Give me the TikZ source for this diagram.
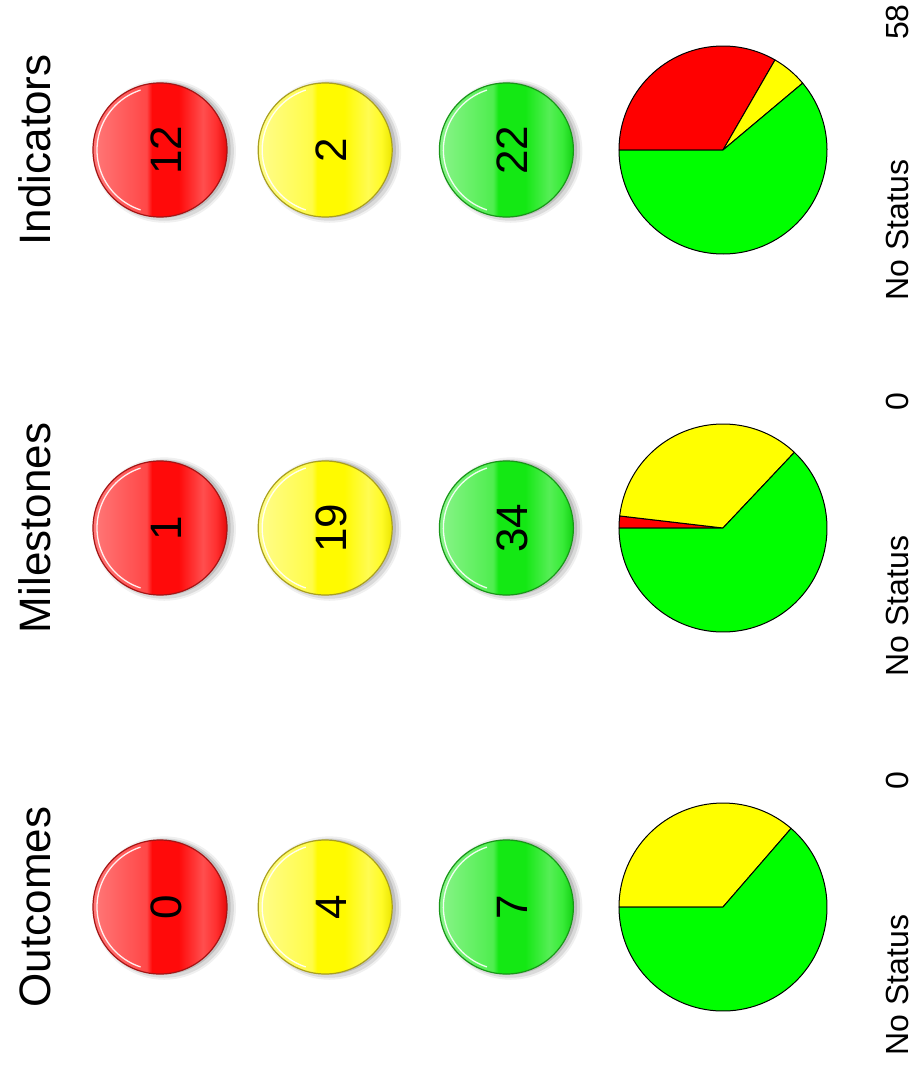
\documentclass[tikz,border=0pt]{standalone}
\usepackage{fontspec}
\setmainfont{Liberation Sans}
\usepackage{xcolor}
\usepackage{tikz}
\usetikzlibrary{positioning,shadows}

\definecolor{pred}{RGB}{255,0,0}
\definecolor{pyellow}{RGB}{255,255,0}
\definecolor{pgreen}{RGB}{0,255,0}
\definecolor{bred}{RGB}{255,10,10}
\definecolor{byellow}{RGB}{255,250,0}
\definecolor{bgreen}{RGB}{20,232,20}
\definecolor{redrim}{RGB}{165,20,20}
\definecolor{yellowrim}{RGB}{170,160,30}
\definecolor{greenrim}{RGB}{25,150,25}

\pgfdeclarehorizontalshading{redbtn}{100bp}{color(0bp)=(bred!55!white); color(25bp)=(bred!55!white); color(45bp)=(bred!75!white); color(47bp)=(bred); color(57bp)=(bred); color(66bp)=(bred!72!white); color(71bp)=(bred!85!white); color(75bp)=(bred!90!black); color(100bp)=(bred!90!black)}
\pgfdeclarehorizontalshading{yellowbtn}{100bp}{color(0bp)=(byellow!45!white); color(25bp)=(byellow!45!white); color(45bp)=(byellow!72!white); color(47bp)=(byellow); color(57bp)=(byellow); color(66bp)=(byellow!68!white); color(71bp)=(byellow!85!white); color(75bp)=(byellow!92!black); color(100bp)=(byellow!92!black)}
\pgfdeclarehorizontalshading{greenbtn}{100bp}{color(0bp)=(bgreen!50!white); color(25bp)=(bgreen!50!white); color(45bp)=(bgreen!75!white); color(47bp)=(bgreen); color(57bp)=(bgreen); color(66bp)=(bgreen!72!white); color(71bp)=(bgreen!85!white); color(75bp)=(bgreen!90!black); color(100bp)=(bgreen!90!black)}

\tikzset{title/.style={rotate=90, anchor=base, inner sep=0pt, font=\fontsize{44}{50}\selectfont}}
\tikzset{num/.style={rotate=90, anchor=base, inner sep=0pt, font=\fontsize{44}{50}\selectfont}}
\tikzset{stat/.style={rotate=90, anchor=base, inner sep=0pt, font=\fontsize{32}{38}\selectfont}}
\tikzset{btn/.style={circle, minimum size=134pt, inner sep=0pt, shade, shading=#1btn, draw=#1rim, line width=1.2pt,
    drop shadow={shadow xshift=4pt, shadow yshift=-1pt, shadow scale=1.07, opacity=.06, fill=black},
    drop shadow={shadow xshift=4pt, shadow yshift=-1pt, shadow scale=1.04, opacity=.09, fill=black},
    drop shadow={shadow xshift=3pt, shadow yshift=0pt, shadow scale=1.01, opacity=.12, fill=black},
    path picture={\draw[white, line width=1.3pt, opacity=.9] ([shift={(108:63)}]path picture bounding box.center) arc[start angle=108, end angle=252, radius=63];}}}
\tikzset{slice/.style={draw=black, line width=1pt, line join=round}}

\begin{document}
\begin{tikzpicture}[x=1pt,y=1pt]
    \useasboundingbox[fill=white] (0,0) rectangle (921,-1068);

    % Indicators
    \node[title] (ind-t) at (50,-150) {Indicators};
    \node[btn=red] (ind-r) at (160,-150) {};
    \node[btn=yellow,right=30pt of ind-r] (ind-y) {};
    \node[btn=green,right=46pt of ind-y] (ind-g) {};
    \node[num] (ind-rn) at ([xshift=21pt]ind-r.center) {12};
    \node[num] (ind-yn) at ([xshift=21pt]ind-y.center) {2};
    \node[num] (ind-gn) at ([xshift=21pt]ind-g.center) {22};

    \coordinate (ind-pie) at (723,-150);
    \draw[slice,fill=pred] (ind-pie) -- +(180:104) arc[start angle=180,end angle=60,radius=104] -- cycle;
    \draw[slice,fill=pyellow] (ind-pie) -- +(60:104) arc[start angle=60,end angle=40,radius=104] -- cycle;
    \draw[slice,fill=pgreen] (ind-pie) -- +(40:104) arc[start angle=40,end angle=-180,radius=104] -- cycle;

    \node[stat] (ind-ns) at (908,-230) {No Status};
    \node[stat] (ind-nv) at (908,-22) {58};

    % Milestones
    \node[title] (mil-t) at (50,-528) {Milestones};
    \node[btn=red] (mil-r) at (160,-528) {};
    \node[btn=yellow,right=30pt of mil-r] (mil-y) {};
    \node[btn=green,right=46pt of mil-y] (mil-g) {};
    \node[num] (mil-rn) at ([xshift=21pt]mil-r.center) {1};
    \node[num] (mil-yn) at ([xshift=21pt]mil-y.center) {19};
    \node[num] (mil-gn) at ([xshift=21pt]mil-g.center) {34};

    \coordinate (mil-pie) at (723,-528);
    \draw[slice,fill=pred] (mil-pie) -- +(180:104) arc[start angle=180,end angle=173.33,radius=104] -- cycle;
    \draw[slice,fill=pyellow] (mil-pie) -- +(173.33:104) arc[start angle=173.33,end angle=46.67,radius=104] -- cycle;
    \draw[slice,fill=pgreen] (mil-pie) -- +(46.67:104) arc[start angle=46.67,end angle=-180,radius=104] -- cycle;

    \node[stat] (mil-ns) at (908,-606) {No Status};
    \node[stat] (mil-nv) at (908,-402) {0};

    % Outcomes
    \node[title] (out-t) at (50,-907) {Outcomes};
    \node[btn=red] (out-r) at (160,-907) {};
    \node[btn=yellow,right=30pt of out-r] (out-y) {};
    \node[btn=green,right=46pt of out-y] (out-g) {};
    \node[num] (out-rn) at ([xshift=21pt]out-r.center) {0};
    \node[num] (out-yn) at ([xshift=21pt]out-y.center) {4};
    \node[num] (out-gn) at ([xshift=21pt]out-g.center) {7};

    \coordinate (out-pie) at (723,-907);
    \draw[slice,fill=pyellow] (out-pie) -- +(180:104) arc[start angle=180,end angle=49.09,radius=104] -- cycle;
    \draw[slice,fill=pgreen] (out-pie) -- +(49.09:104) arc[start angle=49.09,end angle=-180,radius=104] -- cycle;

    \node[stat] (out-ns) at (908,-985) {No Status};
    \node[stat] (out-nv) at (908,-781) {0};
\end{tikzpicture}
\end{document}
